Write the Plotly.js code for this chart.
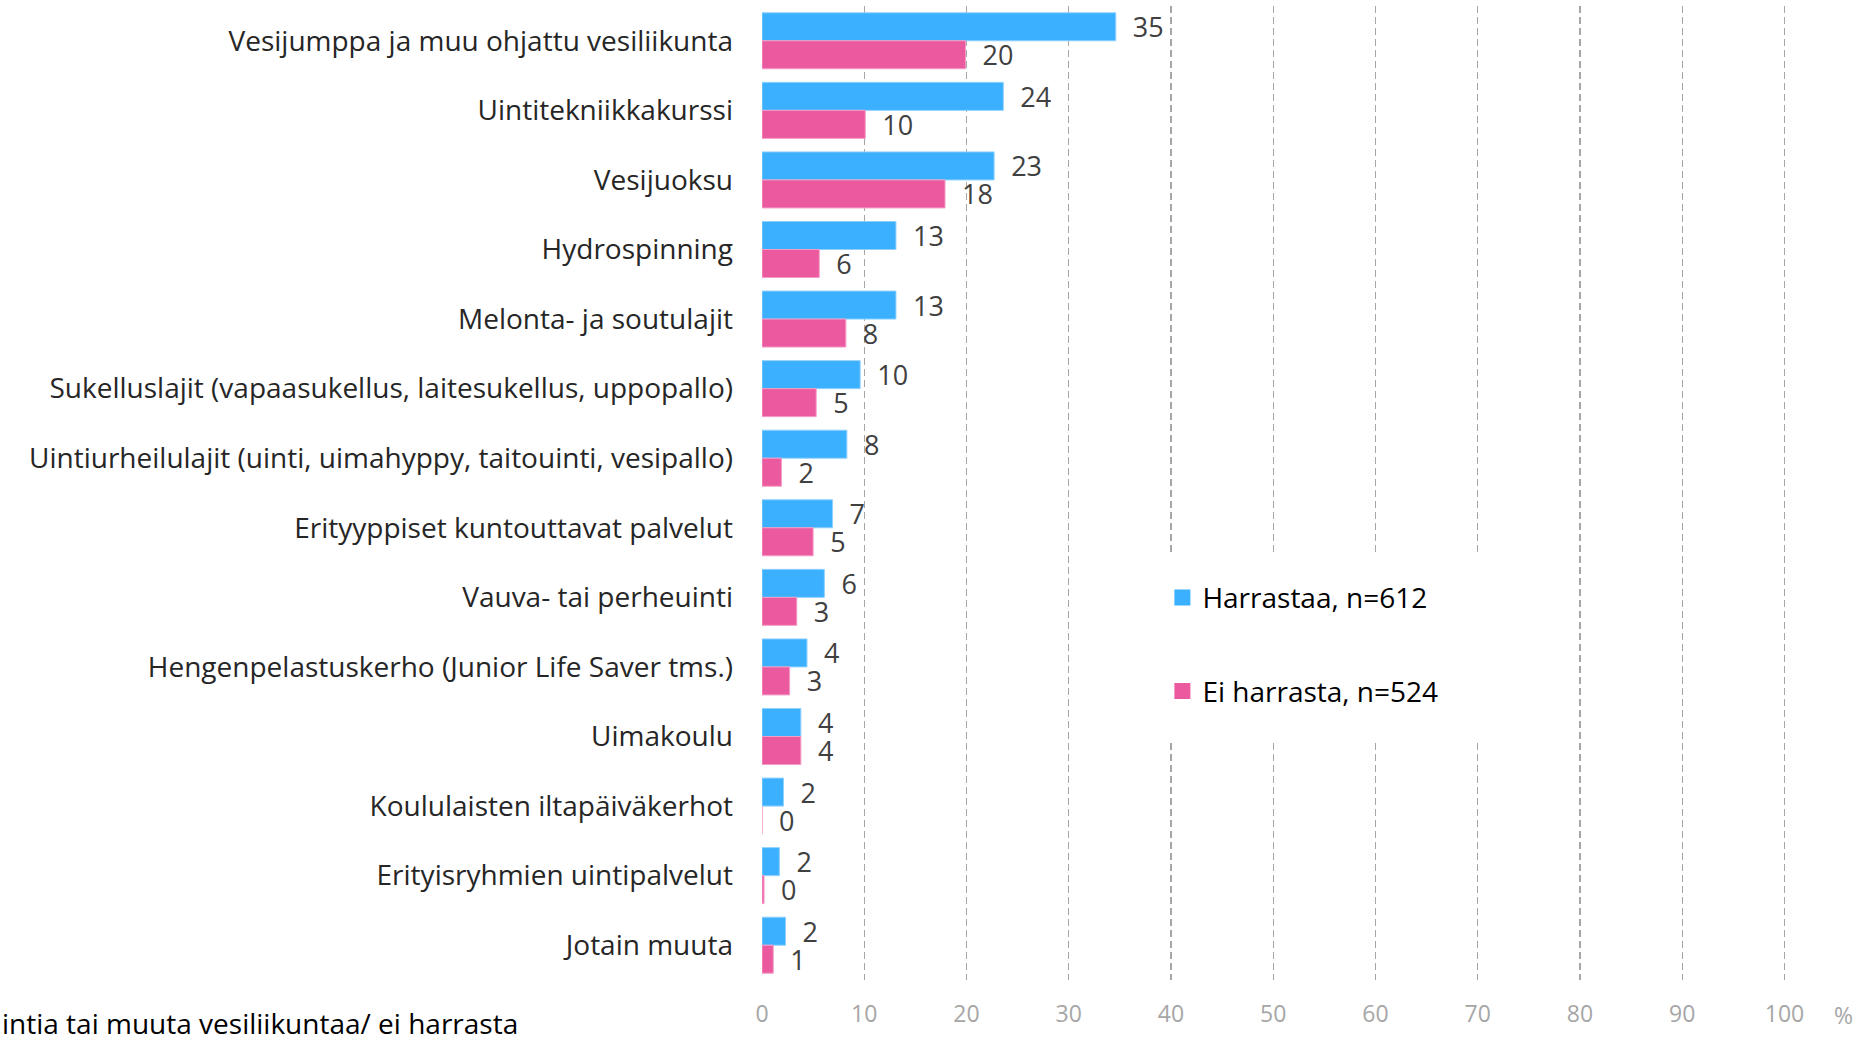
<!DOCTYPE html>
<html>
<head>
<meta charset="utf-8">
<script src="https://cdn.plot.ly/plotly-3.0.1.min.js"></script>
<style>html,body{margin:0;padding:0;background:#fff;}#chart{width:1870px;height:1040px;}</style>
</head>
<body>
<div id="chart"></div>
<script>
const categories = [
  "Vesijumppa ja muu ohjattu vesiliikunta",
  "Uintitekniikkakurssi",
  "Vesijuoksu",
  "Hydrospinning",
  "Melonta- ja soutulajit",
  "Sukelluslajit (vapaasukellus, laitesukellus, uppopallo)",
  "Uintiurheilulajit (uinti, uimahyppy, taitouinti, vesipallo)",
  "Erityyppiset kuntouttavat palvelut",
  "Vauva- tai perheuinti",
  "Hengenpelastuskerho (Junior Life Saver tms.)",
  "Uimakoulu",
  "Koululaisten iltapäiväkerhot",
  "Erityisryhmien uintipalvelut",
  "Jotain muuta"
];
const harrastaa   = [34.6, 23.6, 22.7, 13.1, 13.1, 9.6, 8.3, 6.9, 6.1, 4.4, 3.8, 2.1, 1.7, 2.3];
const eiHarrasta  = [19.9, 10.1, 17.9, 5.6, 8.2, 5.3, 1.9, 5.0, 3.4, 2.7, 3.8, 0.0, 0.2, 1.1];
const seriesNames = ["Harrastaa, n=612", "Ei harrasta, n=524"];
const seriesColors = ["#3AB0FF", "#EB5A9E"];
const xTicks = [0,10,20,30,40,50,60,70,80,90,100];
const footText = "intia tai muuta vesiliikuntaa/ ei harrasta";
const unitText = "%";

const FONT = "'Open Sans', sans-serif";
const NB = "\u00a0\u00a0";

const traces = [
  {type:'bar', orientation:'h', name:seriesNames[0], y:categories, x:harrastaa,
   marker:{color:seriesColors[0], line:{color:'#8fd0ff', width:1}},
   text:harrastaa.map(v=>NB+Math.round(v)), textposition:'outside', cliponaxis:false, constraintext:'none',
   textfont:{family:FONT, size:27, color:'#404040'}, showlegend:false, hoverinfo:'x+y'},
  {type:'bar', orientation:'h', name:seriesNames[1], y:categories, x:eiHarrasta,
   marker:{color:seriesColors[1], line:{color:'#f59cc6', width:1}},
   text:eiHarrasta.map(v=>NB+Math.round(v)), textposition:'outside', cliponaxis:false, constraintext:'none',
   textfont:{family:FONT, size:27, color:'#404040'}, showlegend:false, hoverinfo:'x+y'},
  {type:'scatter', mode:'markers', name:seriesNames[0], x:[null], y:[null], legendgroup:'a',
   marker:{symbol:'square', size:16, color:seriesColors[0]}, showlegend:true},
  {type:'scatter', mode:'markers', name:seriesNames[1], x:[null], y:[null], legendgroup:'b',
   marker:{symbol:'square', size:16, color:seriesColors[1]}, showlegend:true}
];

const layout = {
  width:1870, height:1040,
  margin:{l:762, r:84, t:6, b:60, pad:0},
  paper_bgcolor:'#fff', plot_bgcolor:'#fff',
  barmode:'group', bargap:0.195, bargroupgap:0,
  font:{family:FONT, size:28, color:'#262626'},
  xaxis:{range:[0,100.15], tickvals:xTicks, ticktext:xTicks.map(String), showgrid:true,
    gridcolor:'#a6a6a6', gridwidth:1.2, griddash:'7px,4px', zeroline:false, showline:false,
    ticks:'', ticklabelstandoff:18, tickfont:{family:FONT, size:23, color:'#a6a6a6'}, fixedrange:true},
  yaxis:{categoryorder:'array', categoryarray:categories, autorange:'reversed',
    showgrid:false, zeroline:false, showline:false, ticks:'', ticklabelstandoff:28,
    tickfont:{family:FONT, size:28, color:'#262626'}, fixedrange:true},
  showlegend:true,
  legend:{x:0.391, y:0.418, xanchor:'left', yanchor:'top', bgcolor:'rgba(0,0,0,0)',
    font:{family:FONT, size:28, color:'#000'}, tracegroupgap:54, traceorder:'grouped',
    itemsizing:'trace', itemwidth:30, borderwidth:0, orientation:'v'},
  shapes:[
    {type:'rect', xref:'x', yref:'paper', x0:39.2, x1:75, y0:0.2444, y1:0.4394,
     fillcolor:'#ffffff', line:{width:0}, layer:'above'}
  ],
  annotations:[
    {xref:'paper', yref:'paper', x:-0.744, y:-0.044, xanchor:'left', yanchor:'middle',
     text:footText, showarrow:false, font:{family:FONT, size:28, color:'#000'}},
    {xref:'paper', yref:'paper', x:1.0557, y:-0.036, xanchor:'center', yanchor:'middle',
     text:unitText, showarrow:false, font:{family:FONT, size:23, color:'#a6a6a6'}}
  ]
};

Plotly.newPlot('chart', traces, layout, {displayModeBar:false, staticPlot:true});
</script>
</body>
</html>
